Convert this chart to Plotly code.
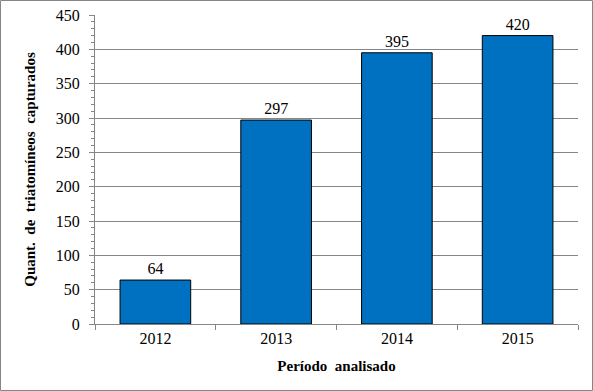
import plotly.graph_objects as go

years = ["2012", "2013", "2014", "2015"]
counts = [64, 297, 395, 420]
y_ticks = [0, 50, 100, 150, 200, 250, 300, 350, 400, 450]

FONT = "Liberation Serif"
GRAY = "#868686"

fig = go.Figure(go.Bar(
    x=years, y=counts,
    marker=dict(color="#0070C0", line=dict(color="black", width=1)),
    text=[str(c) for c in counts], textposition="outside",
    textfont=dict(family=FONT, size=16, color="black"),
    cliponaxis=False,
))

fig.update_layout(
    width=593, height=391,
    margin=dict(l=95, r=15, t=15, b=67),
    paper_bgcolor="white", plot_bgcolor="white",
    bargap=0.415,
    font=dict(family=FONT, size=16, color="black"),
    showlegend=False,
    xaxis=dict(
        type="category", automargin=False,
        showline=True, linecolor=GRAY, linewidth=1,
        ticks="outside", tickson="boundaries", ticklen=5, tickcolor=GRAY,
        tickfont=dict(family=FONT, size=16),
        title=dict(text="<b>Período  analisado</b>", font=dict(family=FONT, size=15), standoff=14),
    ),
    yaxis=dict(
        range=[0, 450], tickvals=y_ticks, automargin=False,
        showline=True, linecolor=GRAY, linewidth=1,
        showgrid=True, gridcolor=GRAY, gridwidth=1,
        ticks="outside", ticklen=5, tickcolor=GRAY,
        minor=dict(dtick=10, ticks="outside", ticklen=3, tickcolor=GRAY, showgrid=False),
        tickfont=dict(family=FONT, size=16),
        ticklabelstandoff=6,
        title=dict(text="<b>Quant.  de  triatomíneos  capturados</b>", font=dict(family=FONT, size=15), standoff=16),
        zeroline=False,
    ),
    shapes=[dict(
        type="rect", xref="paper", yref="paper",
        x0=(0.5 - 95) / 483, x1=(592.5 - 95) / 483,
        y0=-(390.5 - 324) / 309, y1=(324 - 0.5) / 309,
        line=dict(color=GRAY, width=1), fillcolor="rgba(0,0,0,0)", layer="below",
    )],
)

fig.write_html(
    "out.html",
    config={"displayModeBar": False},
    post_script="document.body.style.margin='0';document.body.style.overflow='hidden';",
)
